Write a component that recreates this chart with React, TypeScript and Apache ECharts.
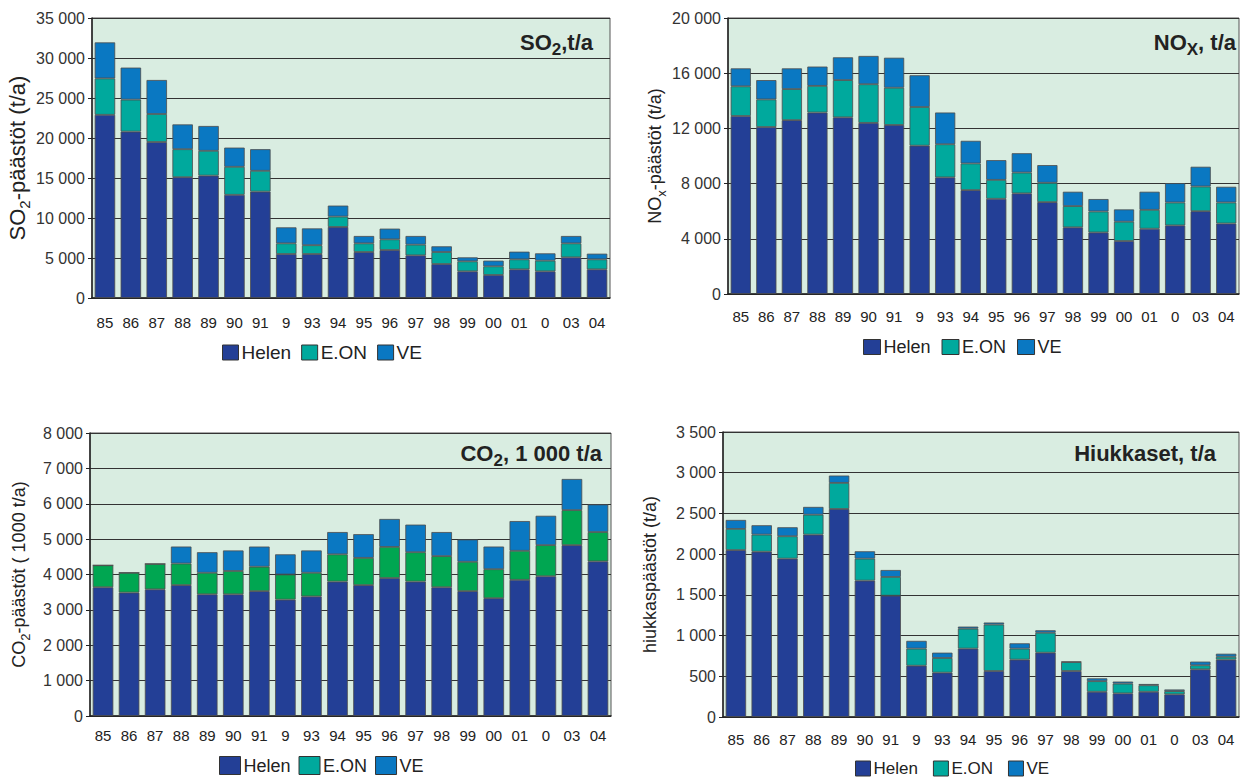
import React, { useEffect, useRef } from "react";
import * as echarts from "echarts";

const categories = ["85", "86", "87", "88", "89", "90", "91", "9", "93", "94", "95", "96", "97", "98", "99", "00", "01", "0", "03", "04"];

const so2Helen = [22900, 20800, 19500, 15100, 15300, 12900, 13300, 5500, 5500, 8880, 5750, 6000, 5330, 4250, 3330, 2880, 3580, 3330, 5080, 3580];
const so2Eon = [4550, 4000, 3500, 3500, 3100, 3500, 2600, 1330, 1100, 1300, 1080, 1330, 1340, 1500, 1250, 1080, 1250, 1340, 1750, 1250];
const so2Ve = [4500, 4000, 4250, 3100, 3100, 2400, 2700, 2000, 2100, 1370, 920, 1340, 1080, 710, 500, 710, 960, 910, 920, 710];

const noxHelen = [12900, 12100, 12600, 13150, 12800, 12400, 12250, 10750, 8450, 7530, 6900, 7290, 6660, 4830, 4460, 3840, 4730, 4970, 6000, 5110];
const noxEon = [2150, 2000, 2250, 1930, 2700, 2800, 2700, 2800, 2400, 1930, 1370, 1510, 1400, 1540, 1520, 1400, 1370, 1660, 1790, 1520];
const noxVe = [1300, 1400, 1500, 1400, 1650, 2050, 2170, 2300, 2300, 1640, 1430, 1400, 1280, 1040, 900, 890, 1310, 1400, 1430, 1140];

const co2Helen = [3640, 3490, 3580, 3700, 3440, 3440, 3530, 3290, 3380, 3800, 3700, 3900, 3800, 3640, 3530, 3330, 3850, 3950, 4830, 4370];
const co2Eon = [620, 560, 720, 610, 610, 660, 690, 710, 670, 770, 770, 880, 830, 880, 830, 820, 820, 880, 990, 830];
const co2Ve = [0, 0, 0, 480, 580, 580, 570, 570, 630, 630, 670, 790, 780, 680, 630, 640, 840, 830, 880, 780];

const pmHelen = [2050, 2030, 1945, 2240, 2555, 1675, 1490, 630, 545, 840, 565, 705, 790, 565, 310, 290, 310, 278, 585, 705];
const pmEon = [260, 210, 275, 245, 320, 270, 230, 210, 180, 245, 570, 135, 245, 110, 130, 120, 80, 40, 50, 35];
const pmVe = [110, 115, 110, 95, 90, 90, 85, 95, 65, 25, 25, 65, 30, 5, 35, 25, 15, 20, 45, 37];

const seriesNames = ["Helen", "E.ON", "VE"];

const C_HELEN = "#233f96";
const C_EON = "#00a99d";
const C_EON_CO2 = "#00a651";
const C_VE = "#0a78c2";
const FONT = "Liberation Sans, Arial, sans-serif";

const fmt = (v: number) => {
  const s = String(Math.round(v));
  return s.length > 3 ? s.slice(0, s.length - 3) + " " + s.slice(-3) : s;
};

const grids = [
  { left: 92, top: 18, width: 518, height: 280 },
  { left: 728, top: 18, width: 511, height: 276 },
  { left: 90, top: 433, width: 521, height: 283 },
  { left: 723, top: 432, width: 516, height: 285 },
];

const yCfg = [
  { max: 35000, interval: 5000, name: "{n|SO}{s|2}{n|-päästöt (t/a)}", nameSize: 22, nameGap: 57 },
  { max: 20000, interval: 4000, name: "{n|NO}{s|x}{n|-päästöt (t/a)}", nameSize: 18, nameGap: 60 },
  { max: 8000, interval: 1000, name: "{n|CO}{s|2}{n|-päästöt ( 1000 t/a)}", nameSize: 18, nameGap: 58 },
  { max: 3500, interval: 500, name: "{n|hiukkaspäästöt (t/a)}", nameSize: 18, nameGap: 60 },
];

const labelMargins = [17, 15, 12, 15];

const stacks = [
  [so2Helen, so2Eon, so2Ve],
  [noxHelen, noxEon, noxVe],
  [co2Helen, co2Eon, co2Ve],
  [pmHelen, pmEon, pmVe],
];

const titleTexts = [
  { text: "{b|SO}{s|2}{b|,t/a}", right: 653, top: 36 },
  { text: "{b|NO}{s|X}{b|, t/a}", right: 10, top: 36 },
  { text: "{b|CO}{s|2}{b|, 1 000 t/a}", right: 644, top: 447 },
  { text: "{b|Hiukkaset, t/a}", right: 30, top: 447 },
];

const legendCfg = [
  { left: 222, top: 343, w: 16, h: 15, size: 19, gap: 10 },
  { left: 863, top: 338, w: 17, h: 15, size: 18, gap: 11 },
  { left: 219, top: 756, w: 21, h: 18, size: 18, gap: 8 },
  { left: 855, top: 760, w: 15, h: 15, size: 17, gap: 15 },
];

export default function App() {
  const ref = useRef<HTMLDivElement>(null);

  useEffect(() => {
    if (!ref.current) return;
    const chart = echarts.init(ref.current, undefined, { renderer: "svg" });

    const series: any[] = [];
    stacks.forEach((arrs, gi) => {
      arrs.forEach((data, si) => {
        let color = si === 0 ? C_HELEN : si === 1 ? C_EON : C_VE;
        if (gi === 2 && si === 1) color = C_EON_CO2;
        series.push({
          name: seriesNames[si],
          type: "bar",
          stack: "s" + gi,
          xAxisIndex: gi,
          yAxisIndex: gi,
          data,
          barCategoryGap: "21%",
          itemStyle: { color, borderColor: "#4d4d4d", borderWidth: 0.8 },
        });
      });
    });

    const option: any = {
      animation: false,
      backgroundColor: "#ffffff",
      textStyle: { fontFamily: FONT },
      grid: grids.map((g) => ({
        ...g,
        show: true,
        backgroundColor: "#d9ede1",
        borderColor: "#555555",
        borderWidth: 1,
        containLabel: false,
      })),
      title: titleTexts.map((t) => ({
        text: t.text,
        right: t.right,
        top: t.top,
        padding: 0,
        textStyle: {
          fontFamily: FONT,
          rich: {
            b: { fontSize: 22, fontWeight: "bold", color: "#222", fontFamily: FONT, lineHeight: 22, padding: [0, 0, 5, 0], verticalAlign: "bottom" },
            s: { fontSize: 17, color: "#222", fontFamily: FONT, lineHeight: 17, verticalAlign: "bottom" },
          },
        },
      })),
      legend: legendCfg.map((p) => ({
        left: p.left,
        top: p.top,
        padding: 0,
        orient: "horizontal",
        itemWidth: p.w,
        itemHeight: p.h,
        itemGap: p.gap,
        icon: "rect",
        selectedMode: false,
        textStyle: { fontSize: p.size, color: "#222", fontFamily: FONT, padding: [0, 0, 0, -2] },
        data: [
          { name: "Helen", itemStyle: { color: C_HELEN, borderColor: "#333", borderWidth: 1 } },
          { name: "E.ON", itemStyle: { color: C_EON, borderColor: "#333", borderWidth: 1 } },
          { name: "VE", itemStyle: { color: C_VE, borderColor: "#333", borderWidth: 1 } },
        ],
      })),
      xAxis: grids.map((_, i) => ({
        type: "category",
        gridIndex: i,
        data: categories,
        axisLine: { show: true, lineStyle: { color: "#222", width: 1.5 } },
        axisTick: { show: false },
        axisLabel: { fontSize: 15, color: "#222", margin: labelMargins[i], interval: 0, fontFamily: FONT },
      })),
      yAxis: yCfg.map((c, i) => ({
        type: "value",
        gridIndex: i,
        min: 0,
        max: c.max,
        interval: c.interval,
        name: c.name,
        nameLocation: "middle",
        nameGap: c.nameGap,
        nameTextStyle: {
          fontSize: c.nameSize,
          color: "#222",
          fontFamily: FONT,
          rich: {
            n: { fontSize: c.nameSize, color: "#222", fontFamily: FONT, lineHeight: c.nameSize, padding: [0, 0, 4, 0], verticalAlign: "bottom" },
            s: { fontSize: Math.round(c.nameSize * 0.7), color: "#222", fontFamily: FONT, verticalAlign: "bottom", lineHeight: Math.round(c.nameSize * 0.7) },
          },
        },
        axisLine: { show: true, lineStyle: { color: "#222", width: 1.5 } },
        axisTick: { show: true, length: 4, lineStyle: { color: "#222" } },
        axisLabel: { fontSize: 16, color: "#333", margin: 7, formatter: fmt, fontFamily: FONT },
        splitLine: { show: true, lineStyle: { color: "#333", width: 1 } },
      })),
      series,
    };

    chart.setOption(option);
    return () => chart.dispose();
  }, []);

  return (
    <div
      ref={ref}
      style={{ position: "absolute", left: 0, top: 0, width: 1246, height: 780, background: "#fff" }}
    />
  );
}
